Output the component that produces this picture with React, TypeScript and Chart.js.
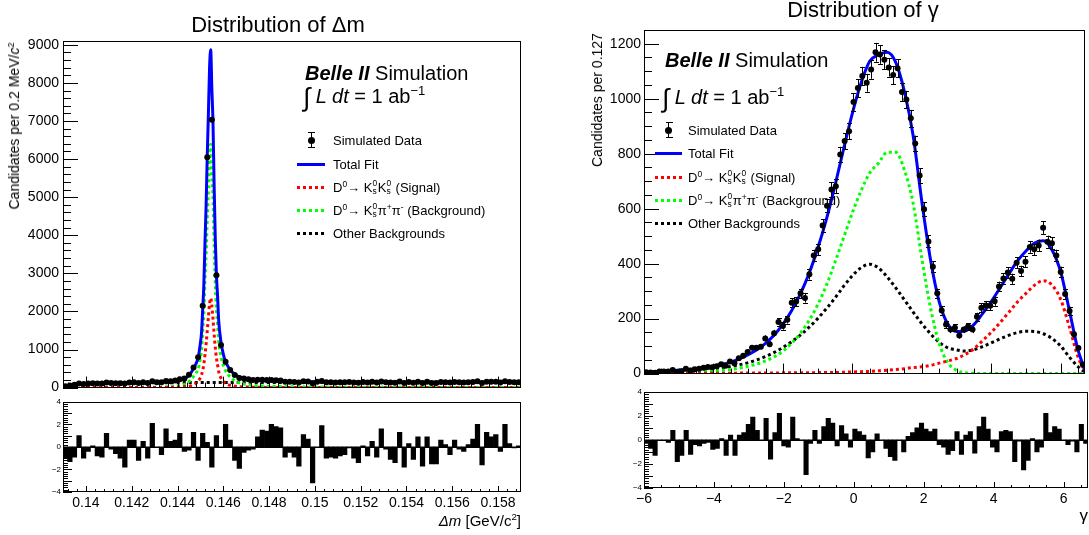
import React, { useEffect, useRef } from "react";
import { Chart, registerables } from "chart.js";
Chart.register(...registerables);

const FONT = '"Liberation Sans", Arial, Helvetica, sans-serif';
Chart.defaults.font.family = FONT;

// ---------------- Δm panel ----------------
const dmMin = 0.139;
const dmMax = 0.159;
const dmBinWidth = 0.0002;
const dmXTicks = [0.14, 0.142, 0.144, 0.146, 0.148, 0.15, 0.152, 0.154, 0.156, 0.158];
const dmYTicks = [0, 1000, 2000, 3000, 4000, 5000, 6000, 7000, 8000, 9000];
const dmData = [
  34, 56, 77, 107, 95, 106, 115, 108, 109, 134,
  121, 117, 115, 107, 136, 138, 118, 140, 124, 164,
  142, 138, 171, 164, 184, 217, 236, 340, 525, 800,
  2150, 6050, 7030, 2950, 1120, 680, 460, 332, 253, 239,
  220, 202, 206, 205, 197, 199, 192, 187, 152, 155,
  148, 136, 170, 163, 113, 152, 174, 138, 138, 136,
  138, 139, 146, 134, 129, 147, 135, 151, 134, 163,
  142, 131, 126, 159, 121, 147, 129, 153, 122, 153,
  124, 124, 149, 143, 133, 148, 139, 136, 143, 149,
  165, 122, 155, 151, 153, 135, 164, 144, 139, 141,
];
const dmPull = [
  -1.0, -1.3, -0.9, 1.0, -1.0, -0.4, 0.1, -0.8, -0.9, 1.2,
  -0.2, -0.6, -1.0, -1.8, 0.6, 0.6, -1.2, 0.5, -1.0, 2.1,
  0, -0.7, 1.6, 0.5, 0.6, 1.2, -0.4, -0.3, 1.3, -1.2,
  1.2, 0.4, -1.8, 1.0, 0, 2.0, 0.6, -1.2, -1.9, -0.5,
  -0.3, -0.2, 0.9, 1.5, 1.4, 2.0, 1.8, 1.7, -0.9, -0.5,
  -0.9, -1.7, 1.1, 0.7, -3.2, 0, 1.9, -1.0, -0.9, -1.0,
  -0.8, -0.7, -0.1, -1.0, -1.4, 0.1, -0.8, 0.5, -0.9, 1.6,
  -0.2, -1.1, -1.4, 1.3, -1.8, 0.3, -1.1, 0.9, -1.7, 0.9,
  -1.5, -1.5, 0.6, 0.2, -0.7, 0.6, -0.2, -0.4, 0.2, 0.7,
  2.0, -1.6, 1.3, 0.9, 1.1, -0.4, 2.0, 0.3, -0.1, 0.1,
];
const dmCurveX = [
  0.139, 0.1392, 0.1394, 0.1396, 0.1398, 0.14, 0.1403, 0.1406, 0.141, 0.1415,
  0.142, 0.1425, 0.143, 0.1434, 0.1437, 0.144, 0.1442, 0.1444, 0.1445, 0.1446,
  0.1447, 0.1448, 0.1449, 0.145, 0.14505, 0.1451, 0.14515, 0.1452, 0.14525, 0.1453,
  0.14535, 0.1454, 0.14545, 0.1455, 0.14555, 0.1456, 0.14565, 0.1457, 0.14575, 0.1458,
  0.1459, 0.146, 0.1461, 0.1462, 0.1464, 0.1466, 0.1468, 0.147, 0.1473, 0.1476,
  0.148, 0.1485, 0.149, 0.15, 0.151, 0.152, 0.153, 0.154, 0.155, 0.156,
  0.157, 0.158, 0.159,
];
const dmTotalFit = [
  25, 55, 78, 92, 102, 108, 114, 118, 122, 126,
  130, 134, 140, 148, 158, 185, 215, 270, 330, 400,
  500, 620, 780, 1170, 1450, 2050, 2700, 3800, 4800, 6100,
  7200, 8400, 8870, 7850, 6950, 5300, 3900, 2950, 2400, 1750,
  1200, 880, 680, 560, 400, 310, 260, 235, 205, 188,
  175, 165, 160, 152, 148, 146, 144, 143, 142, 141,
  141, 140, 140,
];
const dmSignal = [
  0, 0, 0, 0, 0, 0, 0, 0, 1, 1,
  2, 2, 3, 5, 7, 12, 18, 28, 38, 52,
  75, 110, 170, 260, 340, 450, 620, 860, 1150, 1500,
  1850, 2200, 2350, 2150, 1800, 1400, 1050, 780, 600, 420,
  250, 160, 110, 80, 45, 30, 20, 15, 10, 7,
  5, 3, 2, 1, 1, 1, 0, 0, 0, 0,
  0, 0, 0,
];
const dmKsPiPi = [
  0, 0, 0, 0, 1, 1, 1, 2, 2, 3,
  4, 6, 9, 14, 21, 43, 66, 111, 161, 217,
  294, 379, 478, 778, 978, 1468, 1948, 2808, 3518, 4468,
  5218, 6068, 6388, 5568, 5018, 3768, 2718, 2038, 1668, 1198,
  818, 588, 438, 348, 222, 147, 107, 87, 62, 47,
  36, 28, 23, 16, 11, 9, 8, 7, 6, 5,
  4, 3, 3,
];
const dmOther = [
  25, 55, 78, 92, 101, 107, 113, 116, 119, 122,
  124, 126, 128, 129, 130, 130, 131, 131, 131, 131,
  131, 131, 132, 132, 132, 132, 132, 132, 132, 132,
  132, 132, 132, 132, 132, 132, 132, 132, 132, 132,
  132, 132, 132, 132, 133, 133, 133, 133, 133, 134,
  134, 134, 135, 135, 136, 136, 136, 136, 136, 136,
  137, 137, 137,
];

// ---------------- γ panel ----------------
const gMin = -6;
const gMax = 6.7;
const gBinWidth = 0.127;
const gXTicks = [-6, -4, -2, 0, 2, 4, 6];
const gYTicks = [0, 200, 400, 600, 800, 1000, 1200];
const gData = [
  5, 4, 3, 8, 8, 8, 13, 6, 9, 18,
  11, 16, 18, 21, 24, 23, 27, 34, 29, 44,
  38, 56, 65, 79, 94, 94, 98, 128, 107, 147,
  188, 173, 196, 258, 262, 292, 275, 361, 430, 452,
  539, 611, 670, 682, 797, 846, 882, 988, 1039, 1083,
  1058, 1106, 1169, 1161, 1142, 1114, 1086, 1111, 1024, 997,
  929, 837, 721, 598, 481, 389, 292, 230, 179, 160,
  167, 139, 160, 171, 160, 207, 240, 248, 247, 263,
  317, 346, 368, 345, 403, 373, 407, 461, 452, 466,
  531, 480, 474, 430, 370, 290, 228, 143, 93, 33,
];
const gPull = [
  -0.3, -0.7, -1.3, 0, 0, -0.2, 0.8, -1.8, -1.3, 0.8,
  -1.2, -0.4, -0.5, -0.3, -0.2, -0.8, -0.7, 0.1, -1.3, 0.4,
  -1.3, 0.4, 0.6, 1.3, 1.9, 0.8, 0, 1.8, -1.6, 0.6,
  2.2, -0.5, -0.6, 1.9, 0.1, 0, -2.9, -0.3, 0.8, -0.3,
  1.1, 1.8, 1.4, -0.5, 1.2, 0.5, -0.6, 0.9, 0.7, 0.4,
  -1.5, -1.0, 0.5, 0, -0.7, -1.4, -1.7, 0, -1.0, 0.3,
  0.6, 1.0, 1.4, 0.9, 0.7, 0.9, -0.4, -0.6, -1.2, -0.9,
  0.7, -1.2, 0.4, 0.7, -1.1, 1.1, 1.9, 0.9, -0.6, -1.0,
  0.7, 0.8, 0.7, -1.8, -0.1, -2.5, -1.7, 0.1, -1.0, -0.6,
  2.2, 0.6, 1.1, 0.9, 0, -0.4, -0.1, -1.0, 1.3, -0.3,
];
const gCurveX = [
  -6, -5.75, -5.5, -5.25, -5, -4.75, -4.5, -4.25, -4, -3.75,
  -3.5, -3.25, -3, -2.75, -2.5, -2.25, -2, -1.75, -1.5, -1.25,
  -1, -0.75, -0.5, -0.25, 0, 0.25, 0.5, 0.75, 1, 1.25,
  1.5, 1.75, 2, 2.25, 2.5, 2.75, 3, 3.25, 3.5, 3.75,
  4, 4.25, 4.5, 4.75, 5, 5.25, 5.5, 5.75, 6, 6.25,
  6.5, 6.7,
];
const gTotalFit = [
  5, 6, 8, 9, 13, 15, 18, 23, 28, 34,
  42, 54, 69, 87, 110, 140, 180, 229, 289, 363,
  454, 560, 684, 818, 947, 1057, 1136, 1160, 1169, 1132,
  1026, 866, 627, 415, 262, 180, 153, 155, 178, 218,
  262, 311, 361, 409, 446, 475, 483, 450, 370, 230,
  85, 13,
];
const gSignal = [
  0, 0, 0, 0, 1, 1, 1, 1, 1, 1,
  1, 2, 2, 2, 2, 2, 3, 3, 3, 3,
  4, 4, 4, 5, 6, 7, 8, 10, 12, 15,
  18, 22, 25, 30, 38, 46, 55, 70, 90, 120,
  150, 185, 222, 260, 292, 322, 338, 322, 270, 170,
  60, 8,
];
const gKsPiPi = [
  2, 2, 3, 3, 4, 5, 6, 8, 10, 12,
  15, 20, 27, 35, 46, 61, 82, 110, 146, 192,
  250, 320, 405, 495, 585, 665, 730, 765, 805, 805,
  740, 620, 420, 240, 110, 40, 12, 3, 1, 0,
  0, 0, 0, 0, 0, 0, 0, 0, 0, 0,
  0, 0,
];
const gOther = [
  3, 4, 5, 6, 8, 9, 11, 14, 17, 21,
  26, 32, 40, 50, 62, 77, 95, 116, 140, 168,
  200, 236, 275, 318, 356, 385, 398, 385, 352, 312,
  268, 224, 182, 145, 114, 94, 86, 82, 87, 98,
  112, 126, 139, 149, 154, 153, 145, 128, 100, 60,
  25, 5,
];

const binCenters = (lo: number, w: number, n: number) =>
  Array.from({ length: n }, (_, i) => lo + w * (i + 0.5));

const fmt = (v: number) => String(parseFloat(Number(v).toFixed(6))).replace("-", "\u2212");

// ROOT-like inward tick marks + frame
const rootAxes = {
  id: "rootAxes",
  afterDatasetsDraw(chart: any, _args: any, opts: any) {
    const { ctx, chartArea: a } = chart;
    ctx.save();
    ctx.strokeStyle = "#000";
    ctx.lineWidth = 1;
    const drawTicks = (id: string, spec: any, horizontal: boolean) => {
      const s = chart.scales[id];
      if (!spec || !s) return;
      const i0 = Math.ceil(s.min / spec.minor - 1e-6);
      const i1 = Math.floor(s.max / spec.minor + 1e-6);
      const ratio = Math.round(spec.major / spec.minor);
      ctx.beginPath();
      for (let i = i0; i <= i1; i++) {
        const v = i * spec.minor;
        const major = ((i % ratio) + ratio) % ratio === 0;
        const len = major ? spec.majorLen : spec.minorLen;
        const p = Math.round(s.getPixelForValue(v)) + 0.5;
        if (horizontal) {
          ctx.moveTo(p, a.bottom);
          ctx.lineTo(p, a.bottom - len);
        } else {
          ctx.moveTo(a.left, p);
          ctx.lineTo(a.left + len, p);
        }
      }
      ctx.stroke();
    };
    drawTicks("x", opts.x, true);
    drawTicks("y", opts.y, false);
    if (opts.zeroLine) {
      const p = Math.round(chart.scales.y.getPixelForValue(0)) + 0.5;
      ctx.beginPath();
      ctx.moveTo(a.left, p);
      ctx.lineTo(a.right, p);
      ctx.stroke();
    }
    ctx.strokeRect(
      Math.round(a.left) + 0.5,
      Math.round(a.top) + 0.5,
      Math.round(a.right - a.left) - 1,
      Math.round(a.bottom - a.top) - 1
    );
    ctx.restore();
  },
};

// Poisson error bars on the data dataset (index 0)
const errorBars = {
  id: "errorBars",
  afterDatasetsDraw(chart: any, _args: any, opts: any) {
    if (!opts || !opts.enabled) return;
    const { ctx, chartArea: a } = chart;
    const meta = chart.getDatasetMeta(0);
    const ds = chart.data.datasets[0];
    const y = chart.scales.y;
    ctx.save();
    ctx.beginPath();
    ctx.rect(a.left, a.top, a.right - a.left, a.bottom - a.top);
    ctx.clip();
    ctx.strokeStyle = "#000";
    ctx.lineWidth = 1;
    ctx.beginPath();
    meta.data.forEach((pt: any, i: number) => {
      const v = ds.data[i].y;
      const e = Math.sqrt(Math.max(v, 0));
      const top = y.getPixelForValue(v + e);
      const bot = y.getPixelForValue(v - e);
      const x = Math.round(pt.x) + 0.5;
      ctx.moveTo(x, top);
      ctx.lineTo(x, bot);
      if (opts.cap && bot - top > 7) {
        ctx.moveTo(x - opts.cap, Math.round(top) + 0.5);
        ctx.lineTo(x + opts.cap, Math.round(top) + 0.5);
        ctx.moveTo(x - opts.cap, Math.round(bot) + 0.5);
        ctx.lineTo(x + opts.cap, Math.round(bot) + 0.5);
      }
    });
    ctx.stroke();
    ctx.restore();
  },
};

const curve = (xs: number[], ys: number[], color: string, dotted: boolean) => ({
  data: xs.map((x, i) => ({ x, y: ys[i] })),
  showLine: true,
  borderColor: color,
  backgroundColor: color,
  borderWidth: 3,
  borderDash: dotted ? [3, 3] : [],
  pointRadius: 0,
  cubicInterpolationMode: "monotone",
  fill: false,
});

function mainConfig(p: any): any {
  const centers = binCenters(p.xMin, p.binW, p.data.length);
  return {
    type: "scatter",
    data: {
      datasets: [
        {
          data: centers.map((x, i) => ({ x, y: p.data[i] })),
          pointRadius: 3,
          pointBorderWidth: 0,
          backgroundColor: "#000",
          borderColor: "#000",
        },
        curve(p.curveX, p.total, "#0000ff", false),
        curve(p.curveX, p.signal, "#ff0000", true),
        curve(p.curveX, p.kspipi, "#00ff00", true),
        curve(p.curveX, p.other, "#000000", true),
      ],
    },
    options: {
      animation: false,
      responsive: false,
      maintainAspectRatio: false,
      events: [],
      layout: { padding: p.padding },
      scales: {
        x: { type: "linear", min: p.xMin, max: p.xMax, display: false },
        y: {
          type: "linear",
          min: 0,
          max: p.yMax,
          grid: { display: false, drawTicks: false },
          border: { display: false },
          ticks: { color: "#000", font: { family: FONT, size: 14 }, padding: p.yPad, callback: (v: number) => fmt(v) },
          afterBuildTicks: (s: any) => {
            s.ticks = p.yTicks.map((v: number) => ({ value: v }));
          },
          afterFit: (s: any) => {
            s.width = p.yWidth;
          },
        },
      },
      plugins: {
        legend: { display: false },
        tooltip: { enabled: false },
        rootAxes: p.ticks,
        errorBars: { enabled: true, cap: p.cap },
      },
    },
    plugins: [rootAxes, errorBars],
  };
}

function residConfig(p: any): any {
  const centers = binCenters(p.xMin, p.binW, p.pull.length);
  return {
    type: "bar",
    data: {
      datasets: [
        {
          data: centers.map((x, i) => ({ x, y: p.pull[i] })),
          backgroundColor: "#000",
          borderWidth: 0,
          barPercentage: 1,
          categoryPercentage: 1,
        },
      ],
    },
    options: {
      animation: false,
      responsive: false,
      maintainAspectRatio: false,
      events: [],
      layout: { padding: p.padding },
      scales: {
        x: {
          type: "linear",
          min: p.xMin,
          max: p.xMax,
          offset: false,
          grid: { display: false, drawTicks: false, offset: false },
          border: { display: false },
          ticks: {
            color: "#000",
            font: { family: FONT, size: 14 },
            padding: p.xPad,
            autoSkip: false,
            maxRotation: 0,
            minRotation: 0,
            callback: (v: number) => fmt(v),
          },
          afterBuildTicks: (s: any) => {
            s.ticks = p.xTicks.map((v: number) => ({ value: v }));
          },
          afterFit: (s: any) => {
            s.height = p.xHeight;
          },
        },
        y: {
          type: "linear",
          min: -4,
          max: 4,
          grid: { display: false, drawTicks: false },
          border: { display: false },
          ticks: { color: "#000", font: { family: FONT, size: 8 }, padding: 2, callback: (v: number) => fmt(v) },
          afterBuildTicks: (s: any) => {
            s.ticks = [-4, -3, -2, -1, 0, 1, 2, 3, 4].map((v) => ({ value: v }));
          },
          afterFit: (s: any) => {
            s.width = p.yWidth;
          },
        },
      },
      plugins: {
        legend: { display: false },
        tooltip: { enabled: false },
        rootAxes: { ...p.ticks, zeroLine: true },
      },
    },
    plugins: [rootAxes],
  };
}

// ---------------- HTML text helpers ----------------
const Txt = ({ x, y, size, align = "left", children, style }: any) => {
  const tx = align === "center" ? "-50%" : align === "right" ? "-100%" : "0";
  return (
    <div
      style={{
        position: "absolute",
        left: x,
        top: y - 0.8465 * size,
        fontSize: size,
        lineHeight: `${size}px`,
        whiteSpace: "nowrap",
        transform: `translateX(${tx})`,
        fontFamily: FONT,
        color: "#000",
        ...style,
      }}
    >
      {children}
    </div>
  );
};

const Sup = ({ children }: any) => (
  <span style={{ fontSize: "0.65em", position: "relative", top: "-0.6em", lineHeight: 0 }}>{children}</span>
);

const SupSub = ({ sup, sub }: any) => (
  <span style={{ position: "relative", display: "inline-block", width: "0.42em", height: 0 }}>
    <span style={{ position: "absolute", left: 0, bottom: "0.5em", fontSize: "0.65em", lineHeight: 1 }}>{sup}</span>
    <span style={{ position: "absolute", left: 0, top: "-0.55em", fontSize: "0.65em", lineHeight: 1 }}>{sub}</span>
  </span>
);

const VTitle = ({ cx, cy, size, children }: any) => (
  <div
    style={{
      position: "absolute",
      left: cx,
      top: cy,
      fontSize: size,
      lineHeight: `${size}px`,
      whiteSpace: "nowrap",
      fontFamily: FONT,
      transform: "translate(-50%, -50%) rotate(-90deg)",
    }}
  >
    {children}
  </div>
);

const Marker = ({ kind, color, x0, x1, yc }: any) => {
  const w = x1 - x0;
  if (kind === "data") {
    const xm = (x0 + x1) / 2;
    return (
      <>
        <div style={{ position: "absolute", left: xm - 0.5, top: yc - 8, width: 1, height: 16, background: "#000" }} />
        <div style={{ position: "absolute", left: xm - 3, top: yc - 8, width: 7, height: 1, background: "#000" }} />
        <div style={{ position: "absolute", left: xm - 3, top: yc + 7, width: 7, height: 1, background: "#000" }} />
        <div style={{ position: "absolute", left: xm - 3.5, top: yc - 3.5, width: 7, height: 7, borderRadius: "50%", background: "#000" }} />
      </>
    );
  }
  const bg =
    kind === "solid" ? color : `repeating-linear-gradient(to right, ${color} 0px, ${color} 3px, transparent 3px, transparent 6px)`;
  return <div style={{ position: "absolute", left: x0, top: yc - 1.5, width: w, height: 3, background: bg }} />;
};

const legendItems = [
  { kind: "data", color: "#000", label: <>Simulated Data</> },
  { kind: "solid", color: "#0000ff", label: <>Total Fit</> },
  {
    kind: "dotted",
    color: "#ff0000",
    label: (
      <>
        D<Sup>0</Sup>→ K<SupSub sup="0" sub="s" />K<SupSub sup="0" sub="s" /> (Signal)
      </>
    ),
  },
  {
    kind: "dotted",
    color: "#00ff00",
    label: (
      <>
        D<Sup>0</Sup>→ K<SupSub sup="0" sub="s" />π<Sup>+</Sup>π<Sup>-</Sup> (Background)
      </>
    ),
  },
  { kind: "dotted", color: "#000000", label: <>Other Backgrounds</> },
];

const Legend = ({ x0, x1, tx, ys, size }: any) => (
  <>
    {legendItems.map((it, i) => (
      <React.Fragment key={i}>
        <Marker kind={it.kind} color={it.color} x0={x0} x1={x1} yc={ys[i]} />
        <Txt x={tx} y={ys[i] + 0.36 * size} size={size}>
          {it.label}
        </Txt>
      </React.Fragment>
    ))}
  </>
);

const Belle = ({ x, y, size }: any) => (
  <Txt x={x} y={y} size={size}>
    <b>
      <i>Belle II</i>
    </b>{" "}
    Simulation
  </Txt>
);

const Lumi = ({ x, y, size }: any) => (
  <Txt x={x} y={y} size={size}>
    <span style={{ fontSize: "1.3em", lineHeight: 0, position: "relative", top: "0.1em" }}>∫</span>{" "}
    <i>L dt</i> = 1 ab<Sup>−1</Sup>
  </Txt>
);

export default function App() {
  const r1 = useRef<HTMLCanvasElement>(null);
  const r2 = useRef<HTMLCanvasElement>(null);
  const r3 = useRef<HTMLCanvasElement>(null);
  const r4 = useRef<HTMLCanvasElement>(null);

  useEffect(() => {
    const charts: Chart[] = [];
    charts.push(
      new Chart(
        r1.current as HTMLCanvasElement,
        mainConfig({
          xMin: dmMin,
          xMax: dmMax,
          binW: dmBinWidth,
          data: dmData,
          curveX: dmCurveX,
          total: dmTotalFit,
          signal: dmSignal,
          kspipi: dmKsPiPi,
          other: dmOther,
          yMax: 9100,
          yTicks: dmYTicks,
          yWidth: 63,
          yPad: 4,
          padding: { left: 0, top: 41, right: 19, bottom: 9 },
          cap: 2,
          ticks: {
            x: { major: 0.002, minor: 0.0004, majorLen: 11, minorLen: 5 },
            y: { major: 1000, minor: 200, majorLen: 15, minorLen: 8 },
          },
        })
      )
    );
    charts.push(
      new Chart(
        r2.current as HTMLCanvasElement,
        residConfig({
          xMin: dmMin,
          xMax: dmMax,
          binW: dmBinWidth,
          pull: dmPull,
          xTicks: dmXTicks,
          yWidth: 63,
          xHeight: 43,
          xPad: 3,
          padding: { left: 0, top: 4, right: 19, bottom: 0 },
          ticks: {
            x: { major: 0.002, minor: 0.0004, majorLen: 6, minorLen: 3 },
            y: { major: 1, minor: 0.2, majorLen: 9, minorLen: 5 },
          },
        })
      )
    );
    charts.push(
      new Chart(
        r3.current as HTMLCanvasElement,
        mainConfig({
          xMin: gMin,
          xMax: gMax,
          binW: gBinWidth,
          data: gData,
          curveX: gCurveX,
          total: gTotalFit,
          signal: gSignal,
          kspipi: gKsPiPi,
          other: gOther,
          yMax: 1250,
          yTicks: gYTicks,
          yWidth: 99,
          yPad: 3,
          padding: { left: 0, top: 30, right: 1, bottom: 8 },
          cap: 2.5,
          ticks: {
            x: { major: 2, minor: 0.5, majorLen: 10, minorLen: 5 },
            y: { major: 200, minor: 50, majorLen: 15, minorLen: 8 },
          },
        })
      )
    );
    charts.push(
      new Chart(
        r4.current as HTMLCanvasElement,
        residConfig({
          xMin: gMin,
          xMax: gMax,
          binW: gBinWidth,
          pull: gPull,
          xTicks: gXTicks,
          yWidth: 99,
          xHeight: 47,
          xPad: 3,
          padding: { left: 0, top: 6, right: 1, bottom: 0 },
          ticks: {
            x: { major: 2, minor: 0.5, majorLen: 6, minorLen: 3 },
            y: { major: 1, minor: 0.2, majorLen: 9, minorLen: 5 },
          },
        })
      )
    );
    return () => charts.forEach((c) => c.destroy());
  }, []);

  const cv = (left: number, top: number, w: number, h: number) => ({
    position: "absolute" as const,
    left,
    top,
    width: w,
    height: h,
  });

  return (
    <div
      style={{
        position: "absolute",
        left: 0,
        top: 0,
        width: 1089,
        height: 535,
        background: "#fff",
        overflow: "hidden",
        fontFamily: FONT,
      }}
    >
      <canvas ref={r1} width={540} height={400} style={cv(0, 0, 540, 400)} />
      <canvas ref={r2} width={540} height={140} style={cv(0, 395, 540, 140)} />
      <canvas ref={r3} width={544} height={385} style={cv(545, 0, 544, 385)} />
      <canvas ref={r4} width={544} height={150} style={cv(545, 385, 544, 150)} />

      {/* Left panel texts */}
      <Txt x={278} y={33} size={22} align="center">
        Distribution of Δm
      </Txt>
      <VTitle cx={14} cy={126} size={14}>
        Candidates per 0.2 MeV/<i>c</i>
        <Sup>2</Sup>
      </VTitle>
      <Belle x={305} y={80} size={20} />
      <Lumi x={303} y={103} size={20} />
      <Legend x0={297} x1={325} tx={333} ys={[140, 164, 187, 210, 233]} size={13} />
      <Txt x={521} y={526} size={15} align="right">
        <i>Δm</i> [GeV/c<Sup>2</Sup>]
      </Txt>

      {/* Right panel texts */}
      <Txt x={863} y={18} size={22} align="center">
        Distribution of γ
      </Txt>
      <VTitle cx={597} cy={100} size={14}>
        Candidates per 0.127
      </VTitle>
      <Belle x={665} y={67} size={20} />
      <Lumi x={662} y={104} size={20} />
      <Legend x0={655} x1={682} tx={688} ys={[130, 153, 177, 200, 223]} size={13} />
      <Txt x={1088} y={521} size={17} align="right">
        γ
      </Txt>
    </div>
  );
}
